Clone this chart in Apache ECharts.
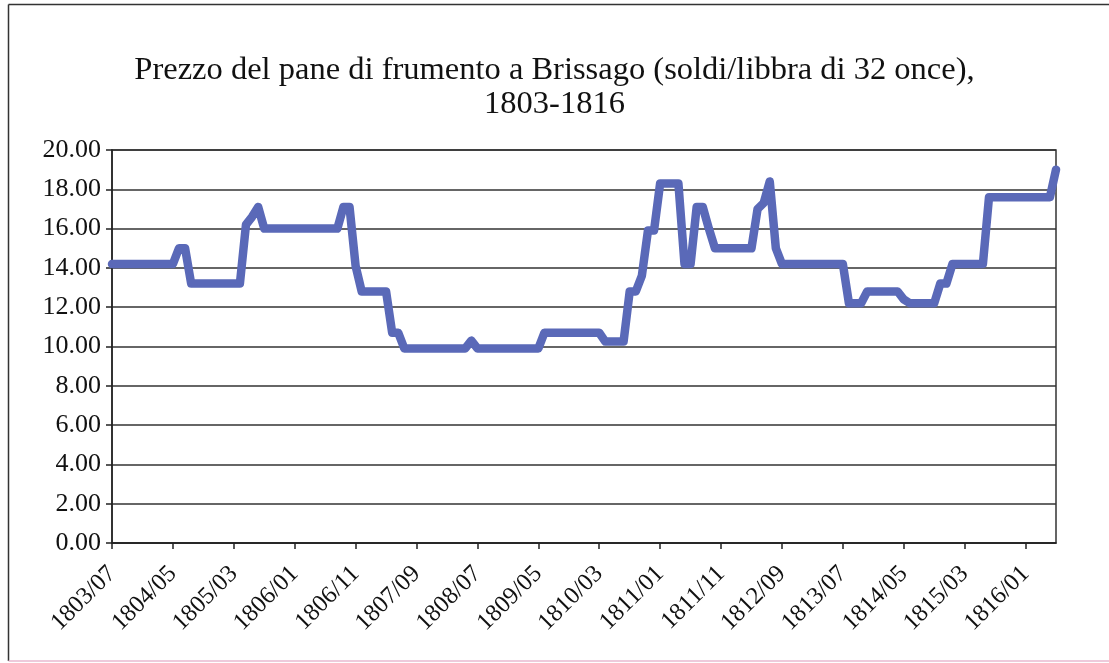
<!DOCTYPE html>
<html>
<head>
<meta charset="utf-8">
<script src="https://cdn.jsdelivr.net/npm/echarts@6/dist/echarts.min.js"></script>
<style>
html,body{margin:0;padding:0;background:#fff;}
#chart{width:1109px;height:663px;}
</style>
</head>
<body>
<div id="chart"></div>
<script>
// Month categories 1803/07 .. 1816/06
var startYear = 1803, startMonth = 7, monthCount = 156;
var categories = [];
for (var k = 0; k < monthCount; k++) {
  var m = startMonth - 1 + k;
  var y = startYear + Math.floor(m / 12);
  var mm = (m % 12) + 1;
  categories.push(y + '/' + (mm < 10 ? '0' + mm : '' + mm));
}

// Bread price (soldi/libbra)
var prices = [
  14.2,14.2,14.2,14.2,14.2,14.2,14.2,14.2,14.2,14.2,14.2,
  15.0,15.0,
  13.2,13.2,13.2,13.2,13.2,13.2,13.2,13.2,13.2,
  16.2,16.6,17.1,
  16.0,16.0,16.0,16.0,16.0,16.0,16.0,16.0,16.0,16.0,16.0,16.0,16.0,
  17.1,17.1,
  14.1,
  12.8,12.8,12.8,12.8,12.8,
  10.7,10.7,
  9.9,9.9,9.9,9.9,9.9,9.9,9.9,9.9,9.9,9.9,9.9,
  10.3,
  9.9,9.9,9.9,9.9,9.9,9.9,9.9,9.9,9.9,9.9,9.9,
  10.7,10.7,10.7,10.7,10.7,10.7,10.7,10.7,10.7,10.7,
  10.25,10.25,10.25,10.25,
  12.8,12.8,
  13.6,
  15.9,15.9,
  18.3,18.3,18.3,18.3,
  14.2,14.2,
  17.1,17.1,
  16.0,
  15.0,15.0,15.0,15.0,15.0,15.0,15.0,
  17.0,17.3,18.4,
  15.0,
  14.2,14.2,14.2,14.2,14.2,14.2,14.2,14.2,14.2,14.2,14.2,
  12.2,12.2,12.2,
  12.8,12.8,12.8,12.8,12.8,12.8,
  12.4,
  12.2,12.2,12.2,12.2,12.2,
  13.2,13.2,
  14.2,14.2,14.2,14.2,14.2,14.2,
  17.6,17.6,17.6,17.6,17.6,17.6,17.6,17.6,17.6,17.6,17.6,
  19.0
];

var titleLines = ['Prezzo del pane di frumento a Brissago (soldi/libbra di 32 once),', '1803-1816'];
var yMin = 0, yMax = 20, yStep = 2;
var labelEvery = 10;

var chart = echarts.init(document.getElementById('chart'), null, {renderer: 'canvas'});
var serif = '"Liberation Serif", "DejaVu Serif", serif';
chart.setOption({
  animation: false,
  backgroundColor: '#ffffff',
  title: {
    text: titleLines.join('\n'),
    left: 'center',
    top: 48,
    textStyle: {fontFamily: serif, fontSize: 32.5, fontWeight: 'normal', color: '#111', lineHeight: 34}
  },
  graphic: [
    {type: 'line', shape: {x1: 8.5, y1: 4.5, x2: 1109, y2: 4.5}, style: {stroke: '#333', lineWidth: 1.5}, silent: true},
    {type: 'line', shape: {x1: 8.5, y1: 4.5, x2: 8.5, y2: 661}, style: {stroke: '#333', lineWidth: 1.5}, silent: true},
    {type: 'line', shape: {x1: 8.5, y1: 661, x2: 1109, y2: 661}, style: {stroke: '#e9b9cf', lineWidth: 1.5}, silent: true}
  ],
  grid: {left: 112, right: 53, top: 150, bottom: 120, show: true, borderColor: '#333', borderWidth: 1.5, backgroundColor: 'transparent'},
  xAxis: {
    type: 'category',
    data: categories,
    boundaryGap: false,
    axisLine: {lineStyle: {color: '#222', width: 1.5}},
    axisTick: {show: true, interval: labelEvery - 1, length: 6, inside: false, lineStyle: {color: '#222', width: 1.5}},
    axisLabel: {interval: labelEvery - 1, rotate: 45, fontFamily: serif, fontSize: 24.5, color: '#111', margin: 27},
    splitLine: {show: false}
  },
  yAxis: {
    type: 'value',
    min: yMin, max: yMax, interval: yStep,
    axisLine: {show: true, lineStyle: {color: '#222', width: 1.5}},
    axisTick: {show: true, length: 6, lineStyle: {color: '#222', width: 1.5}},
    axisLabel: {fontFamily: serif, fontSize: 26, color: '#111', margin: 11, formatter: function (v) { return v.toFixed(2); }},
    splitLine: {show: true, lineStyle: {color: '#333', width: 1.5}}
  },
  series: [{
    type: 'line',
    data: prices,
    showSymbol: false,
    symbol: 'none',
    lineStyle: {color: '#5a69b8', width: 8.5, join: 'round', cap: 'round'},
    itemStyle: {color: '#5a69b8'}
  }]
});
</script>
</body>
</html>
